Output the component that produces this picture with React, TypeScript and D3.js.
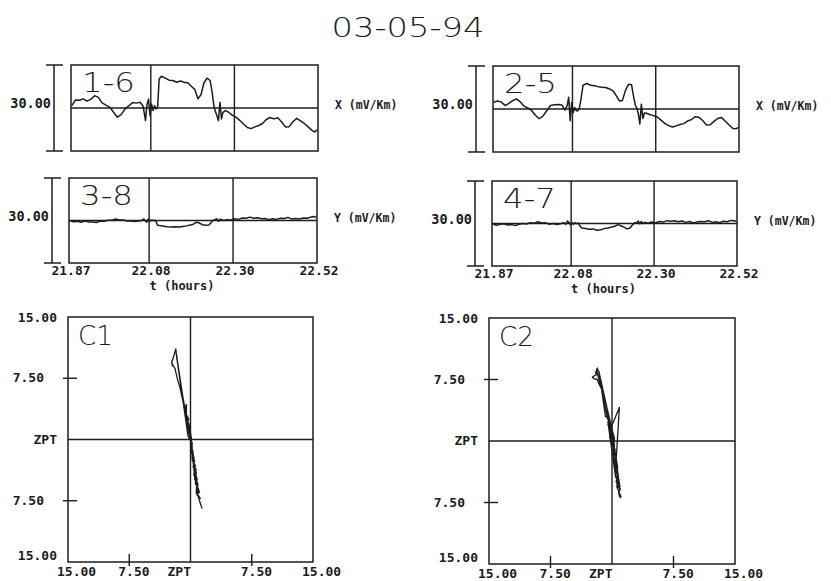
import React from 'react'
import { scaleLinear, line } from 'd3'

// sample times (hours) shared by all four channels
const hours = [
  21.872, 21.882, 21.892, 21.902, 21.912, 21.922, 21.932, 21.942, 21.952, 21.962,
  21.972, 21.982, 21.992, 22.002, 22.012, 22.022, 22.032, 22.042, 22.052, 22.060,
  22.066, 22.070, 22.074, 22.078, 22.082, 22.086, 22.090, 22.094, 22.098, 22.102,
  22.108, 22.118, 22.128, 22.138, 22.148, 22.158, 22.168, 22.178, 22.188, 22.196,
  22.204, 22.212, 22.220, 22.228, 22.236, 22.242, 22.246, 22.250, 22.254, 22.258,
  22.262, 22.266, 22.270, 22.276, 22.284, 22.294, 22.304, 22.314, 22.324, 22.334,
  22.344, 22.354, 22.364, 22.374, 22.384, 22.394, 22.404, 22.414, 22.424, 22.434,
  22.444, 22.454, 22.464, 22.474, 22.484, 22.494, 22.504, 22.512, 22.518,
]

// X channels (mV/Km)
const x16 = [
  0.8, 2.8, 2.7, 3.2, 2.4, 3.0, 4.3, 3.7, 1.8, 1.0,
  0.3, -1.5, -3.2, -2.3, -0.4, 0.8, 1.9, 1.7, 2.0, 0.6,
  -4.4, 1.2, 3.1, -2.7, 1.4, -0.9, 0.8, -0.3, 0.4, 10.1,
  11.1, 10.4, 9.7, 9.6, 9.0, 9.4, 9.0, 8.7, 7.4, 6.4,
  3.2, 4.6, 8.8, 10.4, 9.6, 5.0, 0.8, -1.2, -2.7, -4.4,
  2.0, -3.8, -1.5, -0.9, -1.4, -2.5, -3.2, -4.3, -5.6, -6.8,
  -7.2, -6.6, -6.1, -5.4, -4.0, -3.3, -3.8, -3.4, -4.8, -6.6,
  -6.5, -4.8, -3.6, -4.5, -5.4, -6.6, -7.8, -8.4, -7.5,
]
const x25 = [
  2.3, 2.8, 2.4, 1.2, 2.0, 2.9, 3.5, 2.5, 1.0, 0.4,
  -0.5, -2.2, -3.4, -2.5, -0.6, 1.2, 1.5, 1.6, 1.4, -0.4,
  1.2, 4.1, -4.1, 2.3, -1.2, 0.5, -0.6, -0.6, 0.2, 3.0,
  8.3, 8.9, 8.3, 8.1, 7.8, 7.6, 7.5, 7.0, 6.2, 4.6,
  2.8, 3.0, 6.5, 8.6, 8.5, 4.0, 1.4, 0.3, -1.7, -5.2,
  1.7, -3.3, -1.4, -1.5, -1.9, -2.3, -2.8, -3.9, -5.0, -5.8,
  -6.3, -5.9, -5.4, -5.1, -4.2, -3.7, -2.7, -2.9, -4.0, -5.6,
  -5.5, -4.3, -3.3, -3.0, -4.3, -5.6, -6.8, -6.9, -6.4,
]
// Y channels (mV/Km)
const y38 = [
  0.0, -0.5, -0.3, -0.6, -0.2, -0.5, -0.5, -0.7, -0.2, -0.3,
  0.1, 0.1, 0.5, 0.2, 0.2, -0.2, -0.2, -0.4, -0.2, 0.0,
  0.5, -0.1, -0.6, 0.5, -0.3, 0.2, 0.0, 0.1, -0.3, -1.7,
  -1.8, -2.0, -2.2, -2.3, -2.2, -2.3, -2.1, -1.9, -1.6, -1.3,
  -0.6, -0.9, -1.5, -1.7, -1.6, -0.9, -0.1, 0.2, 0.4, 0.6,
  -0.3, 0.5, 0.3, 0.0, 0.3, 0.2, 0.6, 0.4, 0.9, 0.8,
  1.2, 0.8, 1.0, 0.6, 0.7, 0.3, 0.6, 0.4, 0.8, 0.7,
  1.1, 0.5, 0.7, 0.5, 0.9, 0.8, 1.2, 1.4, 1.1,
]
const y47 = [
  -0.2, -0.6, -0.3, -0.1, -0.5, -0.4, -0.7, -0.3, 0.0, -0.2,
  0.3, 0.1, 0.6, 0.2, 0.3, -0.3, 0.0, -0.4, -0.1, 0.3,
  -0.3, 0.9, 0.4, -0.5, 0.4, -0.3, 0.3, -0.1, 0.2, -0.6,
  -1.6, -1.8, -2.0, -1.9, -2.4, -2.2, -1.8, -1.6, -1.2, -1.0,
  -0.4, -0.8, -1.3, -1.9, -1.6, -0.6, 0.0, 0.3, 0.1, 0.9,
  -0.1, 0.7, 0.0, 0.4, 0.1, 0.5, 0.2, 0.7, 0.5, 1.0,
  0.8, 1.0, 0.6, 0.9, 0.4, 0.7, 0.2, 0.5, 0.7, 0.6,
  1.0, 0.4, 0.6, 0.3, 0.8, 0.6, 1.1, 1.0, 0.8,
]

const timeTicks = [21.87, 22.08, 22.30, 22.52]
const fieldTicks = [15, 7.5, 0, -7.5, -15]
const title = '03-05-94'

const ink = '#1c1c1c'
const labelFont = { fontFamily: 'DejaVu Sans Mono', fontWeight: 700, fontSize: 13 }
const thinFont = { fontFamily: 'DejaVu Sans', fontWeight: 200, fontSize: 27 }

const TracePanel = ({ left, top, w, h, name, values, unit, axis }) => {
  const x = scaleLinear().domain([21.87, 22.52]).range([left, left + w])
  const y = scaleLinear().domain([-15, 15]).range([top + h, top])
  const path = line().x((d, i) => x(hours[i])).y(d => y(d))(values)
  const bottom = top + h
  return (
    <g>
      {/* 30 mV/Km scale bar */}
      <line x1={left - 17} x2={left - 17} y1={top} y2={bottom} stroke={ink} strokeWidth={1.5} />
      <line x1={left - 25} x2={left - 8} y1={top} y2={top} stroke={ink} strokeWidth={1.5} />
      <line x1={left - 25} x2={left - 8} y1={bottom} y2={bottom} stroke={ink} strokeWidth={1.5} />
      <text x={left - 20} y={y(0)} textAnchor="end" fill={ink} {...labelFont} fontSize={13.5}>30.00</text>
      <text x={left + w + 17} y={y(0) + 1} fill={ink} {...labelFont} fontSize={11.5}>{unit}</text>

      <rect x={left} y={top} width={w} height={h} fill="none" stroke={ink} strokeWidth={1.5} />
      {timeTicks.slice(1, 3).map(t => (
        <line key={t} x1={x(t)} x2={x(t)} y1={top} y2={bottom} stroke={ink} strokeWidth={1.4} />
      ))}
      <line x1={left} x2={left + w} y1={y(0)} y2={y(0)} stroke={ink} strokeWidth={1.4} />
      <path d={path} fill="none" stroke={ink} strokeWidth={1.5} strokeLinejoin="round" />
      <text x={left + 11} y={top + 27} fill={ink} {...thinFont} textLength={53} lengthAdjust="spacingAndGlyphs">{name}</text>

      {axis && (
        <g>
          {timeTicks.map(t => (
            <text key={t} x={x(t) + 2} y={bottom + 12} textAnchor="middle" fill={ink} {...labelFont}>{t.toFixed(2)}</text>
          ))}
          <text x={left + w / 2 - 11} y={bottom + 27} textAnchor="middle" fill={ink} {...labelFont} fontSize={12}>t  (hours)</text>
        </g>
      )}
    </g>
  )
}

const Hodogram = ({ left, top, size, name, horiz, vert }) => {
  const x = scaleLinear().domain([-15, 15]).range([left, left + size])
  const y = scaleLinear().domain([-15, 15]).range([top + size, top])
  const bottom = top + size
  const pts = horiz.map((v, i) => [v, vert[i]])
  const path = line().x(d => x(d[0])).y(d => y(d[1]))(pts)
  const tickText = v => (v === 0 ? 'ZPT' : Math.abs(v).toFixed(2))
  return (
    <g>
      <rect x={left} y={top} width={size} height={size} fill="none" stroke={ink} strokeWidth={1.5} />
      <line x1={x(0)} x2={x(0)} y1={top} y2={bottom} stroke={ink} strokeWidth={1.4} />
      <line x1={left} x2={left + size} y1={y(0)} y2={y(0)} stroke={ink} strokeWidth={1.4} />
      {[7.5, -7.5].map(v => (
        <g key={v}>
          <line x1={left - 5} x2={left + 9} y1={y(v)} y2={y(v)} stroke={ink} strokeWidth={1.4} />
          <line x1={x(v)} x2={x(v)} y1={bottom - 8} y2={bottom + 4} stroke={ink} strokeWidth={1.4} />
        </g>
      ))}
      {fieldTicks.map(v => {
        const ty = v === 15 ? y(v) + 5 : v === -15 ? y(v) - 2 : y(v) + 4
        const tx = Math.abs(v) === 7.5 ? left - 24 : left - 11
        return <text key={'l' + v} x={tx} y={ty} textAnchor="end" fill={ink} {...labelFont}>{tickText(v)}</text>
      })}
      {fieldTicks.map(v => (
        <text key={'b' + v} x={v === 0 ? x(v) - 23 : x(-v) - 11} y={bottom + 14} fill={ink} {...labelFont}>{tickText(v)}</text>
      ))}
      <path d={path} fill="none" stroke={ink} strokeWidth={1.3} strokeLinejoin="round" />
      <text x={left + 10} y={top + 28} fill={ink} {...thinFont} textLength={35} lengthAdjust="spacingAndGlyphs">{name}</text>
    </g>
  )
}

export default function App() {
  return (
    <svg width={831} height={581} style={{ position: 'absolute', left: 0, top: 0, background: '#fff' }}>
      <rect width={831} height={581} fill="#fff" />
      <text x={408} y={37} textAnchor="middle" fill={ink} {...thinFont} textLength={153} lengthAdjust="spacingAndGlyphs">{title}</text>

      <TracePanel left={71} top={65} w={247} h={86} name="1-6" values={x16} unit="X  (mV/Km)" axis={false} />
      <TracePanel left={493} top={66} w={246} h={86} name="2-5" values={x25} unit="X  (mV/Km)" axis={false} />
      <TracePanel left={69} top={178} w={248} h={85} name="3-8" values={y38} unit="Y  (mV/Km)" axis={true} />
      <TracePanel left={492} top={181} w={245} h={85} name="4-7" values={y47} unit="Y  (mV/Km)" axis={true} />

      <Hodogram left={68} top={317} size={245} name="C1" horiz={y38} vert={x16} />
      <Hodogram left={489} top={318} size={246} name="C2" horiz={y47} vert={x25} />
    </svg>
  )
}
